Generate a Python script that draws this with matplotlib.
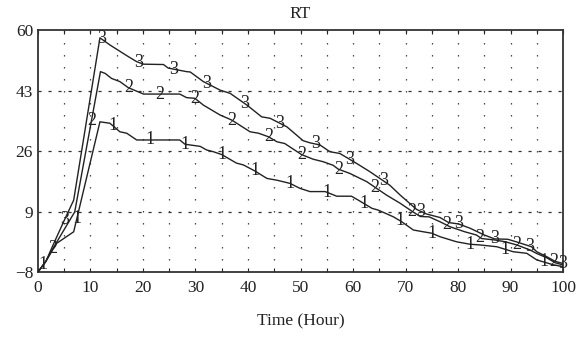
import numpy as np
import matplotlib
matplotlib.use("Agg")
import matplotlib.pyplot as plt

plt.rcParams['font.family'] = ['Liberation Serif', 'DejaVu Serif']

title = "RT"
xlabel = "Time (Hour)"
xticks = [0, 10, 20, 30, 40, 50, 60, 70, 80, 90, 100]
yticks = [-8, 9, 26, 43, 60]

t1 = [0, 1.5, 3.5, 6.8, 11.8, 13.7, 15.6, 16.9, 18.8, 27, 28, 30.9, 32.1, 33.4, 35, 37.8, 39.1,
      41.3, 43.6, 45.5, 48, 49.9, 51.8, 54.7, 56.9, 59.7, 61, 63.6, 64.8, 67.7, 69.3, 71.5,
      73.4, 75, 76.6, 79.7, 82.3, 84.2, 87.4, 90.5, 93.1, 95, 98.2, 100]
v1 = [-8, -5, 0, 3.3, 34.2, 33.8, 31.4, 31.0, 29.1, 29.1, 27.9, 27.3, 26.3, 25.8, 25.0, 22.6, 22.1,
      20.4, 18.3, 17.8, 16.9, 15.5, 14.6, 14.6, 13.3, 13.3, 12.2, 9.9, 9.4, 7.5, 6.1, 3.8,
      3.3, 2.9, 1.9, 0.5, -0.2, -0.4, -0.9, -2.3, -2.75, -4.6, -6.0, -6.5]

t2 = [0, 1.5, 3, 7, 11.9, 12.8, 14, 15.6, 17.2, 20.1, 27, 28.3, 29.9, 31.5, 34.7, 36.9, 40.4, 42,
      43.9, 45.5, 47, 50.2, 52.4, 54.3, 56.2, 57.2, 59.4, 62.6, 64.2, 66.4, 69, 71, 72.8, 74.5,
      76.6, 78.5, 81.3, 83.5, 84.5, 87, 89, 91.2, 93.7, 95, 96.9, 98.5, 100]
v2 = [-8, -5, -1, 8.9, 48.3, 47.8, 46.4, 45.5, 43.8, 42, 42, 41, 40.8, 38.9, 36.1, 34.7, 31.4, 31,
      30, 28.6, 28.1, 25, 23.7, 23, 22, 20.9, 19.7, 17.4, 15.8, 13.6, 11.3, 9.3, 7.6, 7.5,
      6.1, 4.7, 3.3, 2.4, 1.4, 1.0, 0.5, -0.4, -1.8, -2.8, -4.0, -5.4, -6.0]

t3 = [0, 1.5, 3, 5, 6.8, 11.8, 13.7, 16.9, 18.8, 20.1, 23.9, 24.8, 28.3, 29, 31.5, 34.7, 36.6,
      39.8, 42.6, 44.2, 47.4, 50.5, 51.8, 53.7, 55.6, 57.5, 60.7, 63.2, 67, 69, 72.1, 74, 76.6,
      78.2, 80.1, 82.3, 85, 87, 89.5, 91.5, 94, 95, 96.9, 98.5, 100]
v3 = [-8, -5, 0, 6.5, 12.2, 57.8, 55.8, 52.8, 51.1, 50.4, 50.3, 49.3, 48.3, 48.2, 45.5, 43.1, 42.2,
      38.9, 35.6, 35.2, 32.8, 28.9, 28.3, 27.7, 25.8, 25.3, 22.5, 20.2, 16.4, 13.6, 9.6, 8.3, 7.3,
      5.9, 5.5, 4.3, 2.4, 1.3, 1.2, 0.3, -0.9, -2.3, -3.7, -5.0, -5.6]

mark1 = [1, 7.4, 14.3, 21.3, 28, 35, 41.3, 48, 55, 62, 69, 75, 82.3, 89, 96.3]
mark2 = [2.9, 10.2, 17.2, 23.2, 29.9, 36.9, 43.9, 50.2, 57.2, 64.2, 71.2, 77.8, 84.2, 91.2, 98.2]
mark3 = [5.1, 12.1, 19.1, 25.8, 32.1, 39.4, 46.1, 52.8, 59.4, 65.8, 72.8, 80.1, 87, 93.7, 100]

series = [("1", t1, v1, mark1), ("2", t2, v2, mark2), ("3", t3, v3, mark3)]

fig = plt.figure(figsize=(5.79, 3.39), dpi=100)
ax = fig.add_axes([0.0656, 0.1976, 0.9068, 0.7139])

ax.set_xlim(0, 100)
ax.set_ylim(-8, 60)

# grid
for xv in np.arange(5, 100, 5):
    ax.axvline(xv, color='#333333', lw=0.9, linestyle=(0, (1.1, 8.5)), zorder=1)
for yv in yticks[1:-1]:
    ax.axhline(yv, color='#333333', lw=0.9, linestyle=(0, (2.5, 5.5)), zorder=1)

line_color = '#222222'
for lab, t, v, m in series:
    ax.plot(t, v, color=line_color, lw=1.0, zorder=3)
    my = np.interp(m, t, v)
    for mx, yy in zip(m, my):
        ax.text(mx, yy, lab, ha='center', va='center', fontsize=13,
                color=line_color, zorder=4)

ax.set_xticks(xticks)
ax.set_yticks(yticks)
ax.set_xticks(np.arange(0, 101, 5), minor=True)
ax.tick_params(axis='both', which='both', direction='in', top=True, right=False,
               length=3, width=0.8, labelsize=12.5, colors='#222222')
ax.tick_params(axis='y', which='both', length=0)
ax.tick_params(axis='x', pad=6)

for s in ax.spines.values():
    s.set_color('#333333')
    s.set_linewidth(1.3)

ax.set_title(title, fontsize=12.5, pad=9, color='#222222')
ax.set_xlabel(xlabel, fontsize=12.5, labelpad=12, color='#222222')

fig.savefig("out.png", dpi=100)
